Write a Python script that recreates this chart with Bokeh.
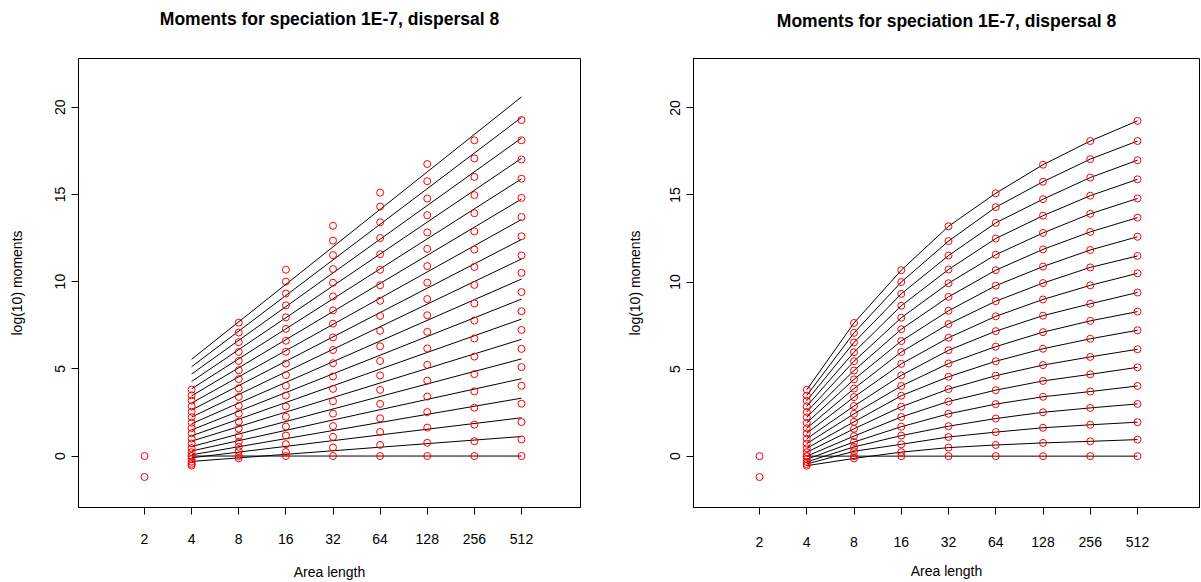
import numpy as np
from bokeh.plotting import figure
from bokeh.layouts import row, column
from bokeh.models import FixedTicker, BasicTickFormatter, Range1d, ColumnDataSource
from bokeh.core.properties import value
from bokeh.embed import file_html
from bokeh.resources import INLINE

# ---- data ----
area_lengths = [4, 8, 16, 32, 64, 128, 256, 512]
area_tick_labels = ["2", "4", "8", "16", "32", "64", "128", "256", "512"]
area_ticks = [2, 4, 8, 16, 32, 64, 128, 256, 512]

# log10 moments at L = 2 (only two visible)
mom_L2 = [0.0, -1.2]
# log10 moments at each area length, curve 0 (bottom) .. curve 18 (top)
mom_L4 = [0.0, -0.55, -0.45, -0.33, -0.18, 0.0, 0.22, 0.45, 0.72, 1.0, 1.31, 1.6,
          1.91, 2.23, 2.54, 2.86, 3.18, 3.48, 3.81]
mom_L8 = [0.0, -0.13, 0.28, 0.53, 0.81, 1.15, 1.57, 1.97, 2.43, 2.88, 3.39, 3.88,
          4.41, 4.92, 5.45, 5.97, 6.53, 7.08, 7.65]
mom_L16 = [0.0, 0.23, 0.68, 1.18, 1.69, 2.25, 2.84, 3.47, 4.03, 4.64, 5.30, 5.98,
           6.61, 7.29, 7.95, 8.64, 9.32, 10.0, 10.68]
mom_L32 = [0.0, 0.49, 1.10, 1.72, 2.43, 3.14, 3.85, 4.56, 5.32, 6.08, 6.80, 7.59,
           8.35, 9.15, 9.93, 10.72, 11.52, 12.35, 13.2]
mom_L64 = [0.0, 0.64, 1.38, 2.16, 2.99, 3.79, 4.62, 5.45, 6.29, 7.18, 8.03, 8.90,
           9.79, 10.68, 11.57, 12.5, 13.4, 14.3, 15.1]
mom_L128 = [0.0, 0.76, 1.63, 2.52, 3.41, 4.32, 5.23, 6.17, 7.12, 8.07, 9.0, 9.94,
            10.89, 11.875, 12.82, 13.81, 14.76, 15.76, 16.74]
mom_L256 = [0.0, 0.85, 1.80, 2.77, 3.71, 4.70, 5.70, 6.74, 7.77, 8.75, 9.81, 10.84,
            11.84, 12.88, 13.92, 14.96, 16.0, 17.06, 18.1]
mom_L512 = [0.0, 0.95, 1.95, 3.0, 4.03, 5.1, 6.14, 7.23, 8.3, 9.4, 10.5, 11.5,
            12.6, 13.7, 14.8, 15.9, 17.0, 18.1, 19.26]

title_text = "Moments for speciation 1E-7, dispersal 8"
x_label = "Area length"
y_label = "log(10) moments"
y_ticks = [0, 5, 10, 15, 20]

# ---- assemble ----
table = np.array([mom_L4, mom_L8, mom_L16, mom_L32, mom_L64, mom_L128, mom_L256, mom_L512])
n_curves = table.shape[1]
pts_x = [2] * len(mom_L2) + [L for L in area_lengths for _ in range(n_curves)]
pts_y = list(mom_L2) + [v for col in table for v in col]

# right panel: curves through the points
curve_xs = [area_lengths for _ in range(n_curves)]
curve_ys = [list(table[:, k]) for k in range(n_curves)]

# left panel: least-squares lines over log2(area length)
lx = np.log2(area_lengths)
fit_xs, fit_ys = [], []
for k in range(n_curves):
    b, a = np.polyfit(lx, table[:, k], 1)
    fit_xs.append([area_lengths[0], area_lengths[-1]])
    fit_ys.append([a + b * lx[0], a + b * lx[-1]])

FONT = "Liberation Sans"
HEAD = 40  # height of the strip holding the panel title


def make_title(width, cx, cy):
    t = figure(width=width, height=HEAD, x_range=Range1d(0, width), y_range=Range1d(HEAD, 0),
               x_axis_type=None, y_axis_type=None, output_backend="svg",
               toolbar_location=None, min_border=0)
    t.outline_line_color = None
    t.background_fill_color = "white"
    t.border_fill_color = "white"
    t.text(x=[cx], y=[cy], text=[title_text], text_font=value(FONT),
           text_font_size=value("17.5px"), text_font_style="bold",
           text_align="center", text_baseline="middle", text_color="#000000")
    return t


def make_panel(width, left, right, top, bottom, x_lo, x_hi, y_lo, y_hi, line_xs, line_ys,
               ylab_standoff, xlab_standoff, xtick_standoff):
    p = figure(width=width, height=582 - HEAD, x_axis_type="log",
               x_range=Range1d(2 ** x_lo, 2 ** x_hi), y_range=Range1d(y_lo, y_hi),
               output_backend="svg", toolbar_location=None,
               min_border_left=left, min_border_right=right,
               min_border_top=top - HEAD, min_border_bottom=bottom)
    p.xgrid.visible = False
    p.ygrid.visible = False
    p.outline_line_color = "#000000"
    p.outline_line_width = 1
    p.background_fill_color = "white"
    p.border_fill_color = "white"

    p.multi_line(xs=line_xs, ys=line_ys, line_color="black", line_width=1)
    src = ColumnDataSource(dict(x=pts_x, y=pts_y))
    p.scatter("x", "y", source=src, marker="circle", size=7, fill_color=None,
              line_color="#ff0000", line_width=1)

    xa = p.xaxis[0]
    xa.ticker = FixedTicker(ticks=area_ticks, minor_ticks=[])
    xa.formatter = BasicTickFormatter()
    xa.major_label_overrides = {t: s for t, s in zip(area_ticks, area_tick_labels)}
    ya = p.yaxis[0]
    ya.ticker = FixedTicker(ticks=y_ticks, minor_ticks=[])
    ya.major_label_orientation = "vertical"
    for ax in (xa, ya):
        ax.axis_line_color = "black"
        ax.major_tick_line_color = "black"
        ax.major_tick_out = 7
        ax.major_tick_in = 0
        ax.minor_tick_line_color = None
        ax.major_label_text_font = FONT
        ax.major_label_text_font_size = "14px"
        ax.major_label_text_color = "#000000"
        ax.axis_label_text_font = FONT
        ax.axis_label_text_font_size = "14px"
        ax.axis_label_text_font_style = "normal"
        ax.axis_label_text_color = "#000000"
    xa.axis_label = x_label
    ya.axis_label = y_label
    xa.major_label_standoff = xtick_standoff
    xa.axis_label_standoff = xlab_standoff
    ya.major_label_standoff = 6
    ya.axis_label_standoff = ylab_standoff
    return p


t1 = make_title(600, 329, 18)
t2 = make_title(601, 346, 20)
p1 = make_panel(600, 78, 20, 56, 72, -0.4006, 10.252, -2.95, 22.79, fit_xs, fit_ys, 28, 17, 19)
p2 = make_panel(601, 93, 2, 58, 70, -0.397, 10.312, -2.95, 22.84, curve_xs, curve_ys, 25, 13, 22)

layout = column(row(t1, t2, spacing=0), row(p1, p2, spacing=0), spacing=0)
open("out.html", "w").write(file_html(layout, INLINE))
